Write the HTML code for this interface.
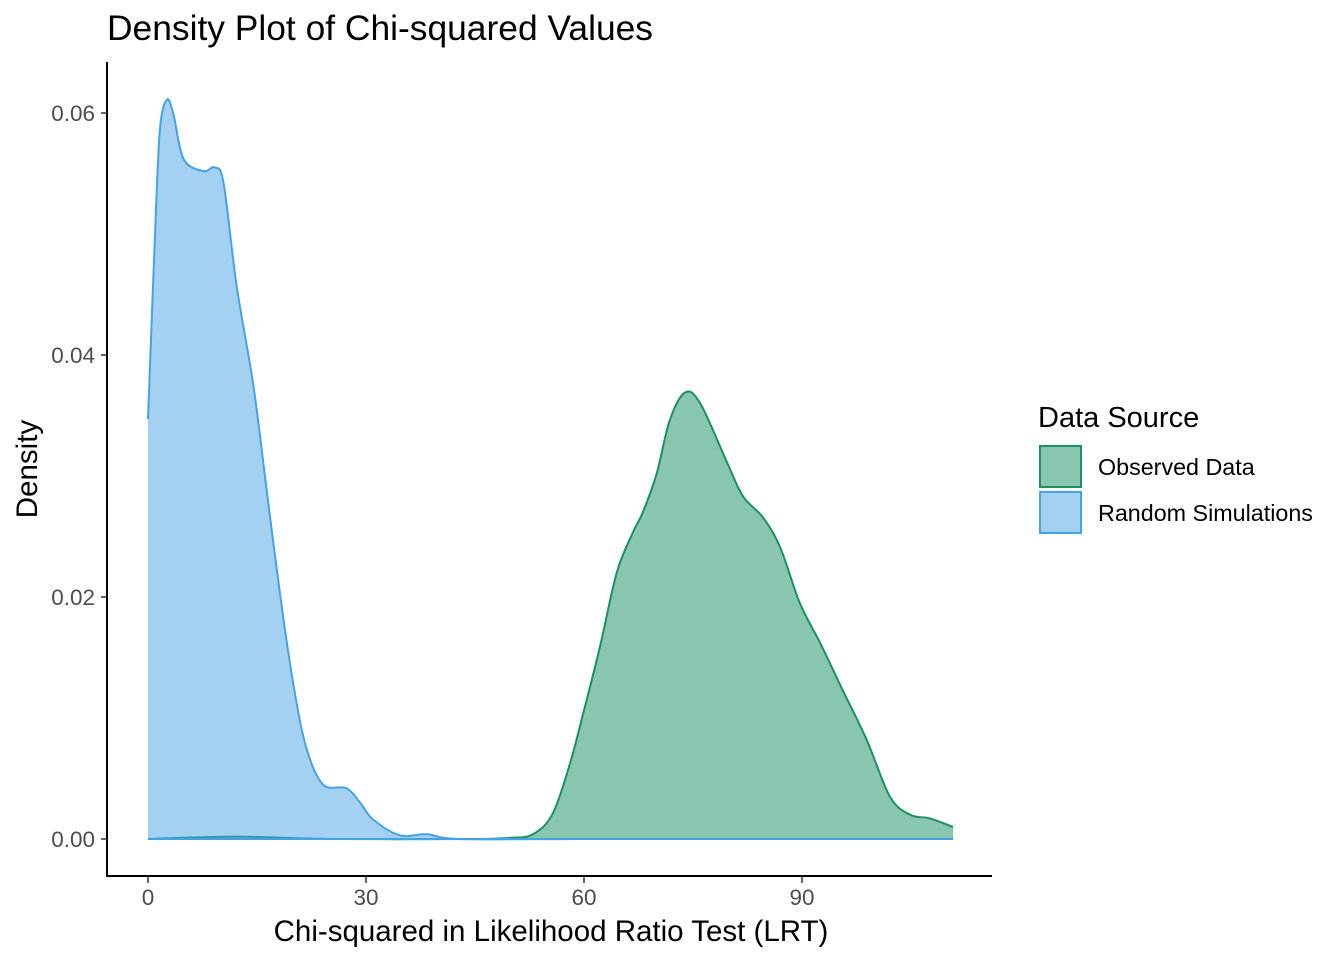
<!DOCTYPE html>
<html><head><meta charset="utf-8"><style>
html,body{margin:0;padding:0;background:#fff;}
svg{display:block;font-family:"Liberation Sans",Arial,sans-serif;}
</style></head><body>
<svg id="chart" width="1344" height="960" viewBox="0 0 1344 960">
<text x="107" y="40" font-size="35" textLength="546" lengthAdjust="spacingAndGlyphs" fill="#000">Density Plot of Chi-squared Values</text>
<g id="plot"></g>
<g id="axes"></g>
<text x="551" y="941" font-size="29.5" text-anchor="middle" fill="#000">Chi-squared in Likelihood Ratio Test (LRT)</text>
<text transform="translate(37,469) rotate(-90)" font-size="29.5" text-anchor="middle" fill="#000">Density</text>
<g>
<text x="1038" y="427" font-size="29" fill="#000">Data Source</text>
<g>
<rect x="1040" y="446" width="41" height="41" fill="#88c7ad" stroke="#1a9063" stroke-width="2"/>
<text x="1098" y="475" font-size="23.3" fill="#000">Observed Data</text>
</g>
<g>
<rect x="1040" y="492" width="41" height="41" fill="#a4d1f1" stroke="#45a3e3" stroke-width="2"/>
<text x="1098" y="521" font-size="23.3" fill="#000">Random Simulations</text>
</g>
</g>
</svg>
<script>
const xTicks = [0, 30, 60, 90];
const yTicks = [0, 0.02, 0.04, 0.06];
const yTickLabels = ["0.00", "0.02", "0.04", "0.06"];
const observedX = [0, 12, 25, 45, 50, 53, 55.7, 58.1, 59.9, 62.2, 64.5, 66.7, 68.1, 70.0, 71.8, 73.9, 76.0, 79.7, 81.9, 84.6, 87.0, 89.7, 92.5, 95.6, 98.9, 102.1, 104.9, 107.6, 110.8];
const observedY = [0, 0.0002, 0, 0, 0.0001, 0.0004, 0.0021, 0.0063, 0.0104, 0.0159, 0.022, 0.0253, 0.027, 0.0302, 0.0346, 0.0369, 0.036, 0.0311, 0.0283, 0.0266, 0.0241, 0.0195, 0.0162, 0.0123, 0.0082, 0.0035, 0.002, 0.0017, 0.001];
const randomX = [0, 1.0, 1.65, 2.6, 3.5, 4.9, 7.6, 9.2, 10.4, 12.2, 14.5, 16.3, 18.2, 20.0, 21.8, 24.1, 27.3, 29.2, 31.0, 34.7, 38.4, 42.9, 60, 80, 110.8];
const randomY = [0.0347, 0.0505, 0.0587, 0.0611, 0.0599, 0.0562, 0.0552, 0.0555, 0.0542, 0.0457, 0.0375, 0.029, 0.0201, 0.0128, 0.0075, 0.0045, 0.0042, 0.003, 0.0016, 0.0003, 0.0004, 0, 0, 0, 0];

const NS = "http://www.w3.org/2000/svg";
function sx(v){ return 148 + v * (802 - 148) / 90; }
function sy(v){ return 839 - v * (839 - 113) / 0.06; }

function smoothPath(xs, ys){
  const p = xs.map((x,i)=>[sx(x), sy(ys[i])]);
  let d = "M" + p[0][0] + "," + p[0][1];
  for(let i=0;i<p.length-1;i++){
    const p0 = p[i-1]||p[i], p1=p[i], p2=p[i+1], p3=p[i+2]||p[i+1];
    const c1x = p1[0] + (p2[0]-p0[0])/6, c1y = p1[1] + (p2[1]-p0[1])/6;
    const c2x = p2[0] - (p3[0]-p1[0])/6, c2y = p2[1] - (p3[1]-p1[1])/6;
    d += " C" + c1x + "," + c1y + " " + c2x + "," + c2y + " " + p2[0] + "," + p2[1];
  }
  return d;
}
const plot = document.getElementById("plot");
function drawSeries(xs, ys, fill, fillOp, stroke, name){
  const line = smoothPath(xs, ys);
  const x0 = sx(xs[0]), x1 = sx(xs[xs.length-1]), y0 = sy(0);
  const area = document.createElementNS(NS, "path");
  area.setAttribute("d", line + " L" + x1 + "," + y0 + " L" + x0 + "," + y0 + " Z");
  area.setAttribute("fill", fill);
  area.setAttribute("fill-opacity", fillOp);
  
  
  plot.appendChild(area);
  const outline = document.createElementNS(NS, "path");
  outline.setAttribute("d", line + " M" + x0 + "," + y0 + " L" + x1 + "," + y0);
  outline.setAttribute("fill", "none");
  outline.setAttribute("stroke", stroke);
  outline.setAttribute("stroke-width", "2");
  outline.setAttribute("stroke-linejoin", "round");
  
  
  plot.appendChild(outline);
}
drawSeries(observedX, observedY, "#118f5d", 0.5, "#1a9063", "observed-density");
drawSeries(randomX, randomY, "#4aa3e3", 0.5, "#45a3e3", "random-density");

const axes = document.getElementById("axes");
function mk(tag, attrs){ const e=document.createElementNS(NS, tag); for(const k in attrs) e.setAttribute(k, attrs[k]); axes.appendChild(e); return e; }
const yAxis = mk("line", {x1:107, y1:62, x2:107, y2:877, stroke:"#000", "stroke-width":2});


const xAxis = mk("line", {x1:106, y1:876, x2:992, y2:876, stroke:"#000", "stroke-width":2});


xTicks.forEach(t=>{
  const tk = mk("line", {x1:sx(t), y1:877, x2:sx(t), y2:883, stroke:"#333", "stroke-width":1.5});
  
  
  const lb = mk("text", {x:sx(t), y:905, "font-size":22.5, "text-anchor":"middle", fill:"#4d4d4d"});
  lb.textContent = t;
  
  
});
yTicks.forEach((t,i)=>{
  const tk = mk("line", {x1:101, y1:sy(t), x2:107, y2:sy(t), stroke:"#333", "stroke-width":1.5});
  
  
  const lb = mk("text", {x:95, y:sy(t)+8, "font-size":22.5, "text-anchor":"end", fill:"#4d4d4d"});
  lb.textContent = yTickLabels[i];
  
  
});
</script>
</body></html>
